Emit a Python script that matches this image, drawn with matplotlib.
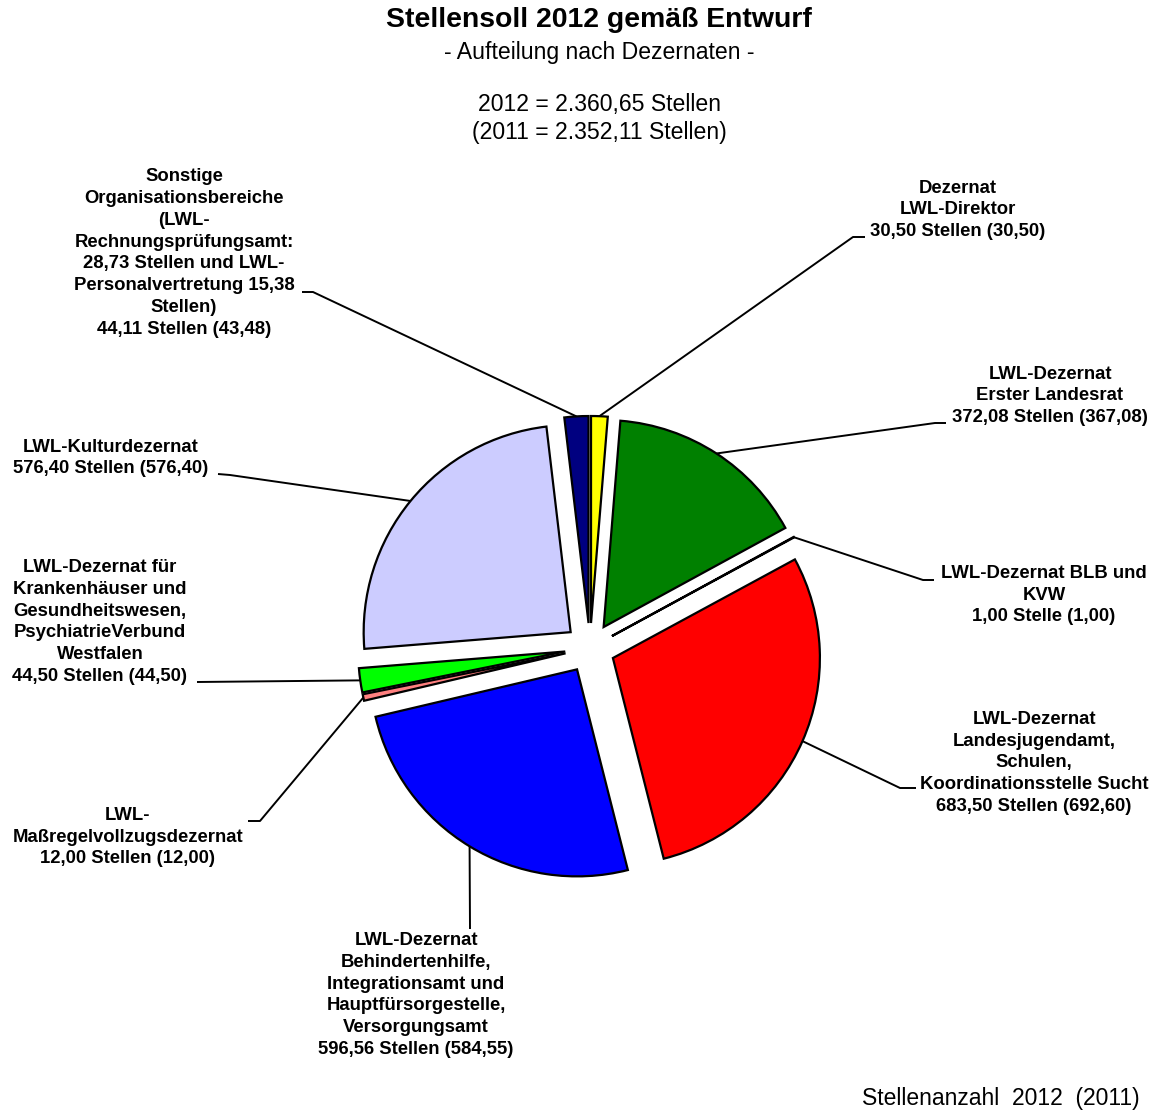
"""Stellensoll 2012 gemäß Entwurf -- exploded pie with leader-line labels."""

import math

import matplotlib

matplotlib.use("Agg")
import matplotlib.pyplot as plt

# ---- data ----------------------------------------------------------------------------
names = [
    "Dezernat\nLWL-Direktor",
    "LWL-Dezernat\nErster Landesrat",
    "LWL-Dezernat BLB und\nKVW",
    "LWL-Dezernat\nLandesjugendamt,\nSchulen,\nKoordinationsstelle Sucht",
    "LWL-Dezernat\nBehindertenhilfe,\nIntegrationsamt und\nHauptfürsorgestelle,\nVersorgungsamt",
    "LWL-\nMaßregelvollzugsdezernat",
    "LWL-Dezernat für\nKrankenhäuser und\nGesundheitswesen,\nPsychiatrieVerbund\nWestfalen",
    "LWL-Kulturdezernat",
    "Sonstige\nOrganisationsbereiche\n(LWL-\nRechnungsprüfungsamt:\n28,73 Stellen und LWL-\nPersonalvertretung 15,38\nStellen)",
]
stellen_2012 = [30.50, 372.08, 1.00, 683.50, 596.56, 12.00, 44.50, 576.40, 44.11]
stellen_2011 = [30.50, 367.08, 1.00, 692.60, 584.55, 12.00, 44.50, 576.40, 43.48]
colors = ["#FFFF00", "#008000", "#993366", "#FF0000", "#0000FF",
          "#FF8080", "#00FF00", "#CCCCFF", "#000080"]

W, H = 1167, 1111
INK = "#000000"
FONT = "Liberation Sans"

# label block centres and leader elbow points (pixel coords, y measured from the top)
label_pos = [(958, 210), (1050, 396), (1044, 595), (1034, 763), (416, 995),
             (128, 837), (100, 622), (111, 458), (184, 253)]
leader_pts = [
    [(853, 237), (865, 237)],
    [(935, 423), (946, 423)],
    [(923, 580), (934, 580)],
    [(900, 788), (916, 788)],
    [(470, 929)],
    [(260, 821), (248, 821)],
    [(197, 682)],
    [(230, 475), (218, 474)],
    [(313, 292), (302, 292)],
]


def fmt(v):
    return f"{v:.2f}".replace(".", ",")


fig = plt.figure(figsize=(W / 100, H / 100), dpi=100)
ax = fig.add_axes([0, 0, 1, 1])

wedges, _ = ax.pie(stellen_2012, colors=colors, startangle=90, counterclock=False,
                   center=(590, H - 648), radius=207, explode=[25] * len(stellen_2012),
                   wedgeprops=dict(edgecolor=INK, linewidth=1.6))

ax.set_xlim(0, W)
ax.set_ylim(0, H)
ax.set_aspect("equal")
ax.axis("off")

for i, w in enumerate(wedges):
    unit = "Stelle" if stellen_2012[i] == 1 else "Stellen"
    text = f"{names[i]}\n{fmt(stellen_2012[i])} {unit} ({fmt(stellen_2011[i])})"
    lx, ly = label_pos[i]
    ax.text(lx, H - ly, text, ha="center", va="center", fontsize=13.3, fontweight="bold",
            family=FONT, linespacing=1.37, color=INK)
    # leader starts on the middle of the wedge's outer arc
    tm = math.radians((w.theta1 + w.theta2) / 2)
    cx, cy = w.center
    xs = [cx + w.r * math.cos(tm)] + [p[0] for p in leader_pts[i]]
    ys = [cy + w.r * math.sin(tm)] + [H - p[1] for p in leader_pts[i]]
    ax.plot(xs, ys, color=INK, linewidth=1.4, solid_capstyle="butt")

ax.text(599, H - 20, "Stellensoll 2012 gemäß Entwurf", ha="center", va="center",
        fontsize=20.4, fontweight="bold", family=FONT, color=INK)
ax.text(599, H - 52, "- Aufteilung nach Dezernaten -", ha="center", va="center",
        fontsize=16.6, family=FONT, color=INK)
ax.text(599, H - 104, "2012 = 2.360,65 Stellen", ha="center", va="center",
        fontsize=16.6, family=FONT, color=INK)
ax.text(599, H - 132, "(2011 = 2.352,11 Stellen)", ha="center", va="center",
        fontsize=16.6, family=FONT, color=INK)
ax.text(1001, H - 1098, "Stellenanzahl  2012  (2011)", ha="center", va="center",
        fontsize=16.5, family=FONT, color=INK)

fig.savefig("out.png", dpi=100, facecolor="white")
